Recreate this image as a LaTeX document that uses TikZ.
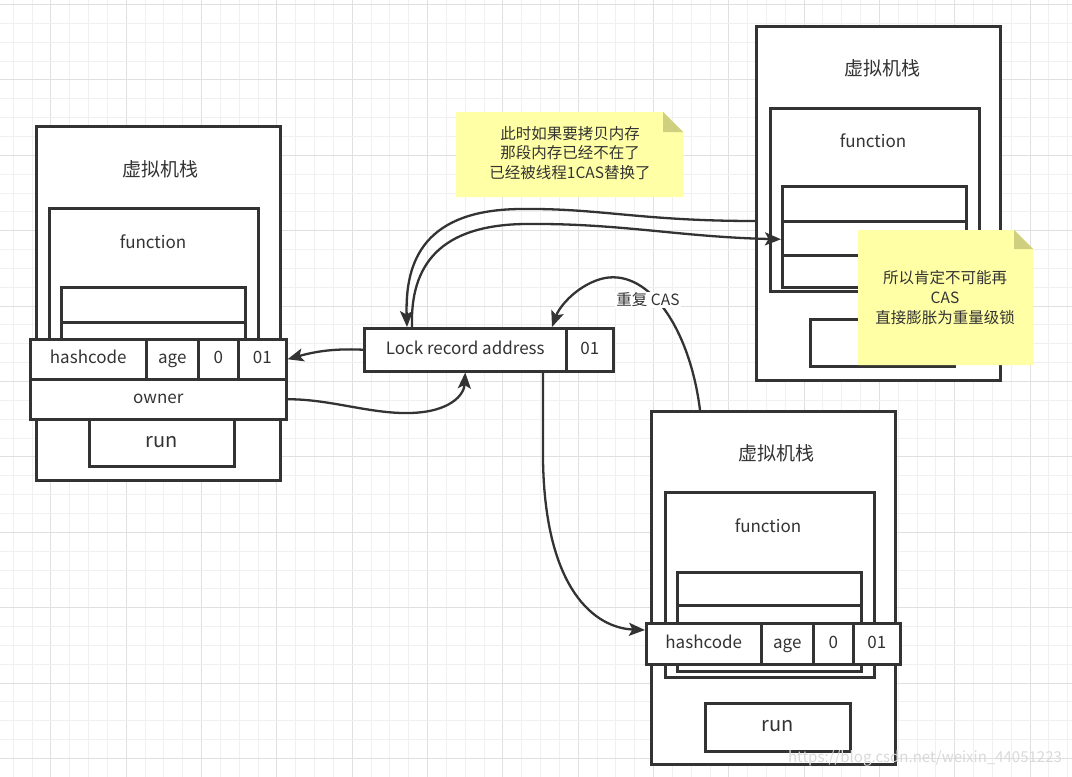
\documentclass[tikz,border=0pt]{standalone}
\usepackage{fontspec}
\setmainfont{Noto Sans CJK SC}
\usetikzlibrary{arrows.meta,calc}
\definecolor{lc}{HTML}{333333}
\definecolor{gmin}{HTML}{F0F0F0}
\definecolor{gmaj}{HTML}{E0E0E0}
\definecolor{notey}{HTML}{FFFFA6}
\definecolor{notefold}{HTML}{CFCF80}
\newcommand\fLab{\fontsize{17}{20}\selectfont}
\newcommand\fTtl{\fontsize{19}{22}\selectfont}
\newcommand\fNote{\fontsize{15.5}{19.5}\selectfont}
\newcommand\fRun{\fontsize{20}{22}\selectfont}
\tikzset{
  box/.style={draw=lc, line width=2.5pt, fill=white, inner sep=0pt, anchor=north west, text=lc, font=\fLab, text height=1.0em, text depth=0.15em},
  ttl/.style={text=lc, font=\fTtl, inner sep=0pt},
  lbl/.style={text=lc, font=\fLab, inner sep=0pt},
  arr/.style={draw=lc, line width=2.3pt, -{Stealth[length=16pt,width=13pt,inset=3.5pt]}},
  notetext/.style={text=lc, font=\fNote, align=center, inner sep=0pt},
}
\begin{document}
\begin{tikzpicture}[x=1pt,y=-1pt]
\useasboundingbox (0,0) rectangle (1072,777);
\fill[white] (0,0) rectangle (1072,777);
% grid
\foreach \i in {0,...,56} {
  \pgfmathsetmacro\gx{13.3+18.83*\i}
  \pgfmathtruncatemacro\gm{mod(\i,4)}
  \ifnum\gm=2 \draw[gmaj,line width=1pt] (\gx,0) -- (\gx,777); \else \draw[gmin,line width=1pt] (\gx,0) -- (\gx,777); \fi
}
\foreach \j in {0,...,41} {
  \pgfmathsetmacro\gy{4.5+18.85*\j}
  \pgfmathtruncatemacro\gm{mod(\j,4)}
  \ifnum\gm=0 \draw[gmaj,line width=1pt] (0,\gy) -- (1072,\gy); \else \draw[gmin,line width=1pt] (0,\gy) -- (1072,\gy); \fi
}

% ---------- left stack ----------
\node[box, minimum width=244, minimum height=354] (Lout) at (35,125) {};
\node[ttl] (Lt) at (160,169) {虚拟机栈};
\node[box, minimum width=209, minimum height=140] (Lfun) at (48,207) {};
\node[lbl] (Lft) at (153,242) {function};
\node[box, minimum width=184, minimum height=35] (Lfr1) at (60,286) {};
\node[box, minimum width=184, minimum height=30] (Lfr2) at (60,321) {};
\node[box, minimum width=145, minimum height=47, font=\fRun] (Lrun) at (88,418) {run};
\node[box, minimum width=116, minimum height=40] (Lh) at (29,338) {hashcode};
\node[box, minimum width=52, minimum height=40] (La) at (145,338) {age};
\node[box, minimum width=40, minimum height=40] (L0) at (197,338) {0};
\node[box, minimum width=48, minimum height=40] (L01) at (237,338) {01};
\node[box, minimum width=256, minimum height=40] (Low) at (29,378) {owner};

% ---------- lock record ----------
\node[box, minimum width=202, minimum height=43] (LR) at (363,327) {Lock record address};
\node[box, minimum width=47, minimum height=43] (LR01) at (565,327) {01};

% ---------- right-top stack ----------
\node[box, minimum width=244, minimum height=354] (Rout) at (755,25) {};
\node[ttl] (Rt) at (882,68) {虚拟机栈};
\node[box, minimum width=209, minimum height=183] (Rfun) at (769,107) {};
\node[lbl] (Rft) at (873,141) {function};
\node[box, minimum width=184, minimum height=35] (Rfr1) at (781,185) {};
\node[box, minimum width=184, minimum height=34] (Rfr2) at (781,220) {};
\node[box, minimum width=184, minimum height=32] (Rfr3) at (781,254) {};
\node[box, minimum width=144, minimum height=47] (Rrun) at (809,318) {};

% ---------- bottom stack ----------
\node[box, minimum width=244, minimum height=353] (Bout) at (650,410) {};
\node[ttl] (Bt) at (776,453) {虚拟机栈};
\node[box, minimum width=209, minimum height=185] (Bfun) at (664,491) {};
\node[lbl] (Bft) at (768,526) {function};
\node[box, minimum width=184, minimum height=33] (Bfr1) at (676,571) {};
\node[box, minimum width=184, minimum height=66] (Bfr2) at (676,604) {};
\node[box, minimum width=115, minimum height=41] (Bh) at (645,622) {hashcode};
\node[box, minimum width=52, minimum height=41] (Ba) at (760,622) {age};
\node[box, minimum width=40, minimum height=41] (B0) at (812,622) {0};
\node[box, minimum width=47, minimum height=41] (B01) at (852,622) {01};
\node[box, minimum width=145, minimum height=48, font=\fRun] (Brun) at (704,702) {run};

% ---------- connectors ----------
\coordinate (c1s) at ($(Rout.north west)+(0,196)$);
\coordinate (c1e) at ($(LR.north west)+(44,0)$);
\coordinate (c2s) at ($(LR.north west)+(49,0)$);
\coordinate (c2e) at ($(Rfr2.west)+(0,1)$);
\coordinate (c3s) at ($(Bout.north west)+(50,0)$);
\coordinate (c3e) at ($(LR.north west)+(189,0)$);
\coordinate (c4s) at ($(LR.south west)+(180,0)$);
\coordinate (c4e) at ($(Bh.north west)+(0,8)$);

\draw[arr] (LR.west) .. controls (330,348) and (310,353) .. (L01.east);
\draw[arr] (Low.east) .. controls (330,399) and (370,414) .. (410,413)
  .. controls (450,412) and (464,395) .. (LR.south);
\draw[arr] (c1s) .. controls (640,221) and (600,208) .. (520,209)
  .. controls (425,210) and (405,260) .. (c1e);
\draw[arr] (c2s) .. controls (410,265) and (440,225) .. (525,224)
  .. controls (620,223) and (680,237) .. (c2e);
\draw[arr] (c3s) .. controls (690,330) and (650,270) .. (605,278)
  .. controls (580,283) and (560,305) .. (c3e);
\draw[arr] (c4s) -- (543,460) .. controls (545,590) and (595,628) .. (c4e);
\node[lbl, fill=white, font=\fontsize{15.5}{18}\selectfont, inner sep=1pt] (cas) at (648,300) {重复 CAS};

% ---------- notes ----------
\fill[notey] (456,112) -- (663,112) -- (683,132) -- (683,197) -- (456,197) -- cycle;
\fill[notefold] (663,112) -- (683,132) -- (663,132) -- cycle;
\node[notetext] (N1) at (570,153) {此时如果要拷贝内存\\那段内存已经不在了\\已经被线程1CAS替换了};

\fill[notey] (858,230) -- (1014,230) -- (1033,249) -- (1033,365) -- (858,365) -- cycle;
\fill[notefold] (1014,230) -- (1033,249) -- (1014,249) -- cycle;
\node[notetext, font=\fontsize{15.5}{20}\selectfont] (N2) at (945,298) {所以肯定不可能再\\CAS\\直接膨胀为重量级锁};

% watermark
\node[text=gray!30, font=\fontsize{15}{18}\selectfont, inner sep=0pt] (wm) at (925,758) {https://blog.csdn.net/weixin\_44051223};
\end{tikzpicture}
\end{document}
